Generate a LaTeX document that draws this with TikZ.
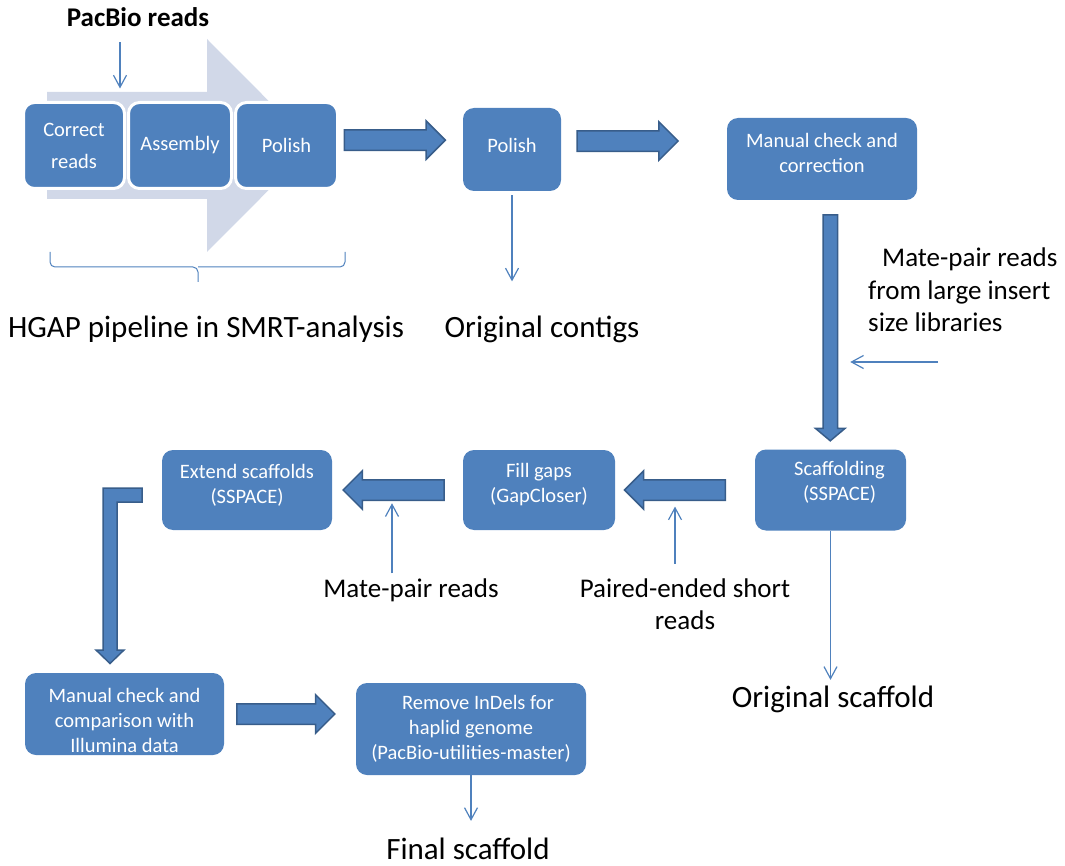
\documentclass[tikz,border=0pt]{standalone}
\usepackage{fontspec}
\setmainfont{Carlito}
\usetikzlibrary{positioning,shapes.arrows,arrows.meta}

\definecolor{boxblue}{RGB}{79,129,189}
\definecolor{edgeblue}{RGB}{56,93,138}
\definecolor{chevron}{RGB}{209,216,232}

\newcommand{\boxfont}{\fontsize{20.5}{25}\selectfont}
\newcommand{\midfont}{\fontsize{27}{32.5}\selectfont}
\newcommand{\bigfont}{\fontsize{31}{37}\selectfont}

\begin{document}
\begin{tikzpicture}[
  x=1pt, y=-1pt,
  box/.style={rectangle, rounded corners=11pt, fill=boxblue, text=white,
    align=center, font=\boxfont, inner sep=0pt},
  stage/.style={box, draw=white, line width=3pt, minimum height=86pt},
  boxtext/.style={text=white, align=center, font=\boxfont, inner sep=0pt},
  note/.style={inner sep=0pt, align=center, font=\midfont},
  result/.style={inner sep=0pt, font=\bigfont},
  feed/.style={draw=boxblue, line width=1.2pt,
    -{Straight Barb[length=12pt,width=13pt]}},
  fat/.style={single arrow, draw=edgeblue, fill=boxblue, line width=1.5pt,
    inner sep=0pt, inner ysep=9.5pt, single arrow head extend=9pt,
    minimum height=101pt}
]
\useasboundingbox (0,0) rectangle (1065,866);

% HGAP pipeline
\fill[chevron] (47,92) -- (207,92) -- (207,39) -- (313,145.5)
  -- (207,252) -- (207,199) -- (47,199) -- cycle;

\node[stage, minimum width=101pt] (corr) at (74,145.5) {Correct\\[7pt]reads};
\node[stage, minimum width=103pt] (asm) at (180,145.5) {Assembly};
\node[stage, minimum width=102pt] (pol1) at (286.5,145.5) {Polish};

\node[note, font=\midfont\bfseries] (pac) at (138,17.5) {PacBio reads};
\node[result] (hgap) at (206,329) {HGAP pipeline in SMRT-analysis};

\draw[boxblue, line width=1pt, rounded corners=5pt] (50,252) |- (198,267) -- (198,282);
\draw[boxblue, line width=1pt, rounded corners=5pt] (198,267) -| (345,252);

% contigs
\node[box, minimum width=98pt, minimum height=83pt,
  label={[boxtext, yshift=4pt]center:Polish}] (pol2) at (512,149.5) {};
\node[result] (ctg) at (542,329) {Original contigs};

\node[box, minimum width=190pt, minimum height=82pt,
  label={[boxtext, yshift=6.5pt]center:Manual check and\\correction}] (chk1) at (822,159) {};

% scaffolding
\node[box, minimum width=151pt, minimum height=81pt,
  label={[boxtext, xshift=9pt, yshift=7.5pt]center:Scaffolding\\(SSPACE)}] (scf) at (830.5,490) {};
\node[box, minimum width=152pt, minimum height=80pt,
  label={[boxtext, yshift=5pt]center:Fill gaps\\(GapCloser)}] (fill) at (539,490) {};
\node[box, minimum width=170pt, minimum height=80pt,
  label={[boxtext, yshift=5pt]center:Extend scaffolds\\(SSPACE)}] (ext) at (247,490) {};

\node[note, align=left, anchor=west] (lib) at (868,290)
  {\hspace*{14pt}Mate-pair reads\\from large insert\\size libraries};
\node[result] (osc) at (833,699) {Original scaffold};
\node[note] (mp) at (411,590) {Mate-pair reads};
\node[note] (pe) at (685,604) {Paired-ended short\\reads};

% final steps
\node[box, minimum width=199pt, minimum height=82pt,
  label={[boxtext, yshift=-6pt]center:Manual check and\\comparison with\\Illumina data}] (chk2) at (124.5,714) {};
\node[box, minimum width=230pt, minimum height=92pt] (rem) at (471,729)
  {\hspace*{14pt}Remove InDels for\\haplid genome\\(PacBio-utilities-master)};
\node[result] (fin) at (468,849) {Final scaffold};

% fat arrows
\path (pol1.east) -- node[fat, pos=.41, yshift=7pt] (fa1) {} (pol2.west);
\path (pol2.east) -- node[fat, pos=.37, yshift=12pt] (fa2) {} (chk1.west);
\path (chk1.south) -- node[fat, xshift=4pt, rotate=-90, inner ysep=6.5pt,
  single arrow head extend=7.5pt, single arrow tip angle=100,
  minimum height=226pt] (vfat) {} (scf.north);
\path (scf.west) -- node[fat, rotate=180, pos=.535] (fa3) {} (fill.east);
\path (fill.west) -- node[fat, rotate=180, pos=.49] (fa4) {} (ext.east);
\path (chk2.east) -- node[fat, pos=.43, minimum height=98pt] (fa5) {} (chk2.east -| rem.west);

% elbow from ext down to chk2
\filldraw[draw=edgeblue, fill=boxblue, line width=1.5pt]
  (142,488) -- (103,488) -- (103,650) -- (96,650) -- (110,663.5)
  -- (124,650) -- (117,650) -- (117,502) -- (142,502) -- cycle;

% inputs and outputs
\coordinate (libin) at (938,362);
\draw[feed, shorten <=15pt, shorten >=12.5pt] ([xshift=-18pt]pac.south) -- ([xshift=-18pt]pac.south |- corr.north);
\draw[feed, shorten <=4pt, shorten >=34pt] (pol2.south) -- (pol2.south |- ctg.north);
\draw[feed, shorten >=20pt] (libin) -- (libin -| vfat.center);
\draw[feed, shorten >=5.5pt] (scf.south) -- (scf.south |- osc.north);
\draw[feed, shorten <=5pt] ([xshift=-19pt]mp.north) -- ++(0,-75);
\draw[feed, shorten <=14.5pt] ([xshift=-10pt]pe.north) -- ++(0,-71.5);
\draw[feed, shorten >=17pt] (rem.south) -- (rem.south |- fin.north);

\end{tikzpicture}
\end{document}
